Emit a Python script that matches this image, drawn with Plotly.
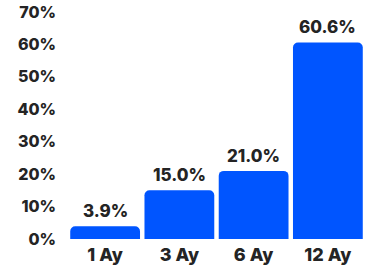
import plotly.graph_objects as go

categories = ["1 Ay", "3 Ay", "6 Ay", "12 Ay"]
values = [3.9, 15.0, 21.0, 60.6]
value_labels = ["3.9%", "15.0%", "21.0%", "60.6%"]
y_tickvals = [0, 10, 20, 30, 40, 50, 60, 70]
y_ticktext = ["0%", "10%", "20%", "30%", "40%", "50%", "60%", "70%"]

FONT = "Inter, Roboto, sans-serif"
TEXT_COLOR = "#242424"

fig = go.Figure(
    go.Bar(
        x=categories,
        y=values,
        marker=dict(color="#0055FF", line=dict(width=0)),
        hoverinfo="skip",
    )
)

for c, v, t in zip(categories, values, value_labels):
    fig.add_annotation(
        x=c, y=v, text=t, showarrow=False,
        yanchor="bottom", yshift=3,
        font=dict(family=FONT, size=17, color=TEXT_COLOR, weight=800),
    )

fig.update_layout(
    width=385,
    height=273,
    margin=dict(l=68, r=20, t=12, b=34),
    plot_bgcolor="white",
    paper_bgcolor="white",
    bargap=0.06,
    barcornerradius=5,
    showlegend=False,
    font=dict(family=FONT, color=TEXT_COLOR),
)
fig.update_xaxes(
    showgrid=False, zeroline=False, showline=False, ticks="",
    automargin=False,
    ticklabelstandoff=3,
    tickfont=dict(family=FONT, size=18, color=TEXT_COLOR, weight=800),
)
fig.update_yaxes(
    range=[0, 70], showgrid=False, zeroline=False, showline=False,
    tickvals=y_tickvals, ticktext=y_ticktext, ticks="",
    automargin=False,
    ticklabelstandoff=11,
    ticklabeloverflow="allow",
    tickfont=dict(family=FONT, size=16, color=TEXT_COLOR, weight=800),
)

fig.write_html(
    "out.html",
    config={"displayModeBar": False},
    post_script="document.body.style.margin='0';document.body.style.overflow='hidden';",
)
